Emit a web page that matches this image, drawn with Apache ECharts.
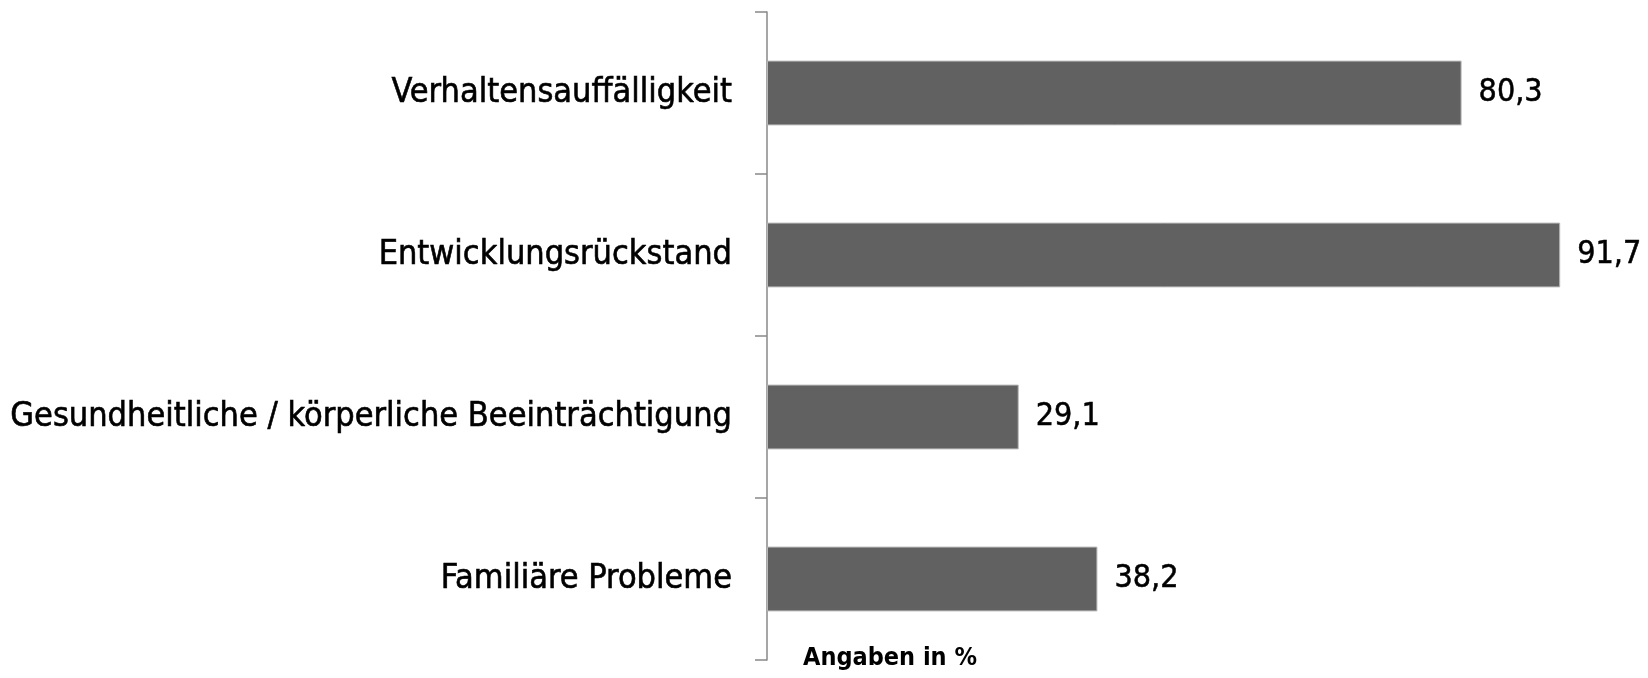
<!DOCTYPE html>
<html lang="de" style="height: 100%">
<head>
    <meta charset="UTF-8">
    <title>Angaben in %</title>
    <style>
        #main{
            width: 1648px;
            height: 678px;
        }
    </style>
    <script type="text/javascript" src="https://cdn.jsdelivr.net/npm/echarts@6/dist/echarts.min.js"></script>
</head>
<body style="height: 100%; margin: 0;">
<div id="main"></div>
<script>
    // Kategorien von oben nach unten
    var categories = [
        'Verhaltensauffälligkeit',
        'Entwicklungsrückstand',
        'Gesundheitliche / körperliche Beeinträchtigung',
        'Familiäre Probleme'
    ];
    var values = [80.3, 91.7, 29.1, 38.2];
    var unitNote = 'Angaben in %';

    var labelFont = '"DejaVu Sans Condensed", "Liberation Sans", sans-serif';

    var chart = echarts.init(document.getElementById('main'));

    var option = {
        animation: false,
        backgroundColor: '#ffffff',
        grid: {
            left: 767,
            right: 16,
            top: 12,
            bottom: 18
        },
        xAxis: {
            type: 'value',
            min: 0,
            max: 100,
            show: false
        },
        yAxis: {
            type: 'category',
            data: categories,
            inverse: true,
            axisLine: {
                show: true,
                lineStyle: { color: '#888888', width: 1.5 }
            },
            axisTick: {
                show: true,
                inside: false,
                length: 12,
                lineStyle: { color: '#888888', width: 1.5 }
            },
            axisLabel: {
                margin: 35,
                color: '#000000',
                fontSize: 34,
                fontFamily: labelFont,
                textBorderColor: '#000000',
                textBorderWidth: 0.6
            }
        },
        series: [{
            type: 'bar',
            data: values,
            barCategoryGap: '60%',
            itemStyle: {
                color: '#616161',
                borderColor: '#b8b8b8',
                borderWidth: 1
            },
            label: {
                show: true,
                position: 'right',
                distance: 17,
                color: '#000000',
                fontSize: 32,
                fontFamily: labelFont,
                textBorderColor: '#000000',
                textBorderWidth: 0.5,
                formatter: function (p) {
                    return p.value.toFixed(1).replace('.', ',');
                }
            }
        }],
        graphic: [{
            type: 'text',
            left: 803,
            top: 646,
            style: {
                text: unitNote,
                fill: '#000000',
                fontSize: 25,
                fontWeight: 'bold',
                fontFamily: labelFont
            }
        }]
    };

    chart.setOption(option);

    window.onresize = function () {
        chart.resize();
    };
</script>
</body>
</html>
